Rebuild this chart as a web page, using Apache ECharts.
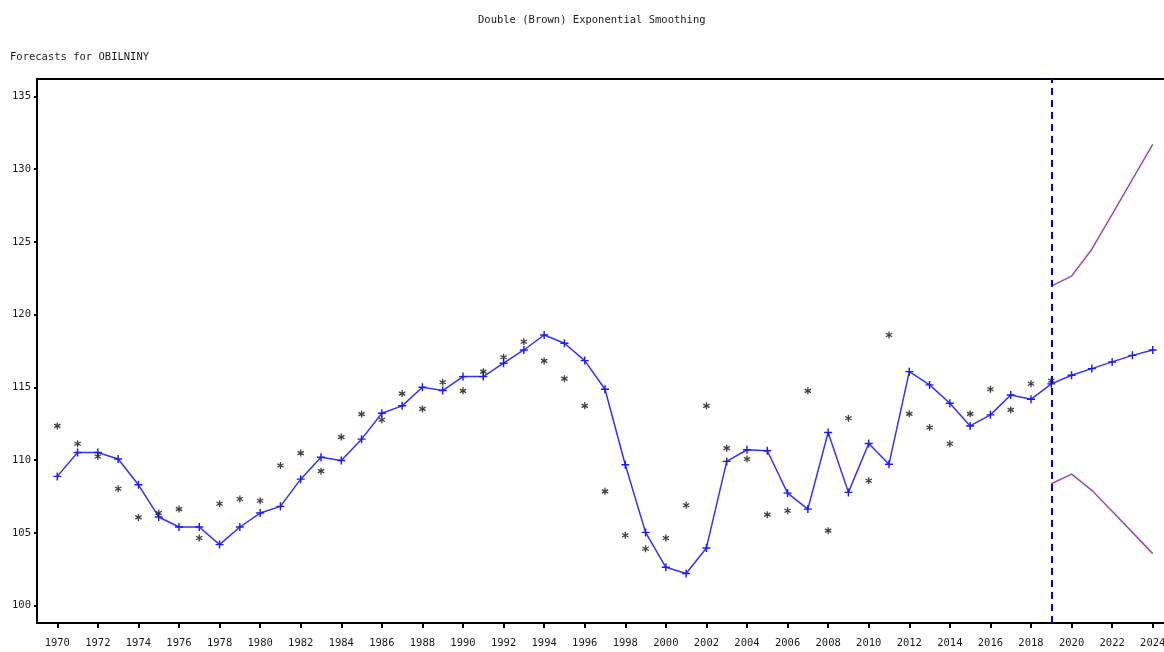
<!DOCTYPE html>
<html>
<head>
<meta charset="utf-8">
<title>Double (Brown) Exponential Smoothing</title>
<script src="https://cdn.jsdelivr.net/npm/echarts@6/dist/echarts.min.js"></script>
<style>
  html, body { margin: 0; padding: 0; background: #fff; }
  #chart { width: 1164px; height: 652px; }
</style>
</head>
<body>
<div id="chart"></div>
<script>
// Observed series (1970–2019)
const actualYears = [
  1970, 1971, 1972, 1973, 1974, 1975, 1976, 1977, 1978, 1979,
  1980, 1981, 1982, 1983, 1984, 1985, 1986, 1987, 1988, 1989,
  1990, 1991, 1992, 1993, 1994, 1995, 1996, 1997, 1998, 1999,
  2000, 2001, 2002, 2003, 2004, 2005, 2006, 2007, 2008, 2009,
  2010, 2011, 2012, 2013, 2014, 2015, 2016, 2017, 2018, 2019
];
const actualValues = [
  112.35, 111.12, 110.25, 108.03, 106.06, 106.36, 106.63, 104.64, 107.00, 107.32,
  107.21, 109.63, 110.48, 109.24, 111.58, 113.16, 112.77, 114.57, 113.52, 115.35,
  114.76, 116.08, 117.07, 118.14, 116.82, 115.60, 113.73, 107.85, 104.83, 103.91,
  104.64, 106.89, 113.73, 110.82, 110.07, 106.25, 106.52, 114.76, 105.15, 112.88,
  108.58, 118.60, 113.18, 112.24, 111.12, 113.18, 114.87, 113.45, 115.25, 115.46
];

// Smoothed fit and point forecasts (1970–2024)
const fitYears = [
  1970, 1971, 1972, 1973, 1974, 1975, 1976, 1977, 1978, 1979,
  1980, 1981, 1982, 1983, 1984, 1985, 1986, 1987, 1988, 1989,
  1990, 1991, 1992, 1993, 1994, 1995, 1996, 1997, 1998, 1999,
  2000, 2001, 2002, 2003, 2004, 2005, 2006, 2007, 2008, 2009,
  2010, 2011, 2012, 2013, 2014, 2015, 2016, 2017, 2018, 2019,
  2020, 2021, 2022, 2023, 2024
];
const fitValues = [
  108.88, 110.52, 110.52, 110.07, 108.30, 106.09, 105.40, 105.40, 104.19, 105.40,
  106.36, 106.82, 108.69, 110.19, 109.97, 111.44, 113.22, 113.73, 115.01, 114.78,
  115.74, 115.74, 116.66, 117.57, 118.60, 118.03, 116.84, 114.87, 109.68, 105.03,
  102.63, 102.20, 103.96, 109.91, 110.71, 110.64, 107.73, 106.63, 111.90, 107.78,
  111.14, 109.72, 116.08, 115.17, 113.91, 112.35, 113.11, 114.48, 114.18, 115.24,
  115.83, 116.29, 116.75, 117.20, 117.57
];

// Forecast interval bounds (2019–2024)
const boundYears = [2019, 2020, 2021, 2022, 2023, 2024];
const upperValues = [121.96, 122.65, 124.50, 126.90, 129.30, 131.70];
const lowerValues = [108.37, 109.04, 107.92, 106.48, 105.03, 103.57];

const forecastOrigin = 2019;

// Axis tick labels
const xTickYears = [];
for (let y = 1970; y <= 2024; y += 2) xTickYears.push(y);
const yTickValues = [100, 105, 110, 115, 120, 125, 130, 135];

const pair = (xs, ys) => xs.map((x, i) => [x, ys[i]]);

const FONT = "'DejaVu Sans Mono', 'Liberation Mono', monospace";
const TEXT_COLOR = '#1a1a1a';

// plus-sign marker and six-armed asterisk marker
const plusPath = 'path://M-0.9,-5 L0.9,-5 L0.9,-0.9 L5,-0.9 L5,0.9 L0.9,0.9 L0.9,5 L-0.9,5 L-0.9,0.9 L-5,0.9 L-5,-0.9 L-0.9,-0.9 Z';
const starPath = 'path://' +
  'M-0.9,5 L-0.9,-5 L0.9,-5 L0.9,5 Z ' +
  'M3.88,3.28 L-4.78,-1.72 L-3.88,-3.28 L4.78,1.72 Z ' +
  'M-4.78,1.72 L3.88,-3.28 L4.78,-1.72 L-3.88,3.28 Z';

// the x range runs a little past the right edge of the canvas, so the plot is left open there
const X_MIN = 1969;
const X_MAX = 2025;

const chart = echarts.init(document.getElementById('chart'), null, { renderer: 'canvas' });

chart.setOption({
  backgroundColor: '#ffffff',
  animation: false,
  title: [
    {
      text: 'Double (Brown) Exponential Smoothing',
      left: 478, top: 15, padding: 0,
      textStyle: { fontFamily: FONT, fontSize: 10.5, fontWeight: 'normal', color: TEXT_COLOR }
    },
    {
      text: 'Forecasts for OBILNINY',
      left: 10, top: 52, padding: 0,
      textStyle: { fontFamily: FONT, fontSize: 10.5, fontWeight: 'normal', color: TEXT_COLOR }
    }
  ],
  grid: {
    left: 37, top: 79, width: 1136, height: 544,
    outerBoundsMode: 'none',
    containLabel: false,
    show: false
  },
  xAxis: [
    {
      type: 'value', min: X_MIN, max: X_MAX,
      axisLine: { show: true, onZero: false, lineStyle: { color: '#000', width: 2 } },
      axisTick: { show: true, length: 5, lineStyle: { color: '#000', width: 2 }, customValues: xTickYears },
      axisLabel: {
        customValues: xTickYears, margin: 15,
        fontFamily: FONT, fontSize: 10.5, color: TEXT_COLOR,
        formatter: v => String(v)
      },
      splitLine: { show: false }
    },
    {
      // top frame line
      type: 'value', position: 'top', min: X_MIN, max: X_MAX,
      axisLine: { show: true, onZero: false, lineStyle: { color: '#000', width: 2 } },
      axisTick: { show: false },
      axisLabel: { show: false },
      splitLine: { show: false }
    }
  ],
  yAxis: {
    type: 'value', min: 98.8, max: 136.2,
    axisLine: { show: true, onZero: false, lineStyle: { color: '#000', width: 2 } },
    axisTick: { show: true, length: 3, lineStyle: { color: '#000', width: 2 }, customValues: yTickValues },
    axisLabel: {
      customValues: yTickValues, margin: 6,
      fontFamily: FONT, fontSize: 10.5, color: TEXT_COLOR,
      formatter: v => String(v)
    },
    splitLine: { show: false }
  },
  series: [
    {
      name: 'Upper',
      type: 'line',
      data: pair(boundYears, upperValues),
      symbol: 'none',
      lineStyle: { color: '#a347b0', width: 1.5 },
      z: 2
    },
    {
      name: 'Lower',
      type: 'line',
      data: pair(boundYears, lowerValues),
      symbol: 'none',
      lineStyle: { color: '#a347b0', width: 1.5 },
      z: 2
    },
    {
      name: 'Fitted',
      type: 'line',
      data: pair(fitYears, fitValues),
      symbol: plusPath,
      symbolSize: 8,
      itemStyle: { color: '#1a1aff' },
      lineStyle: { color: '#3333ff', width: 1.5 },
      z: 3,
      markLine: {
        silent: true,
        symbol: 'none',
        label: { show: false },
        lineStyle: { color: '#0000ff', width: 2, type: [7, 5] },
        data: [{ xAxis: forecastOrigin }]
      }
    },
    {
      name: 'Actual',
      type: 'scatter',
      data: pair(actualYears, actualValues),
      symbol: starPath,
      symbolSize: 7,
      itemStyle: { color: '#111' },
      z: 4
    }
  ]
});
</script>
</body>
</html>
